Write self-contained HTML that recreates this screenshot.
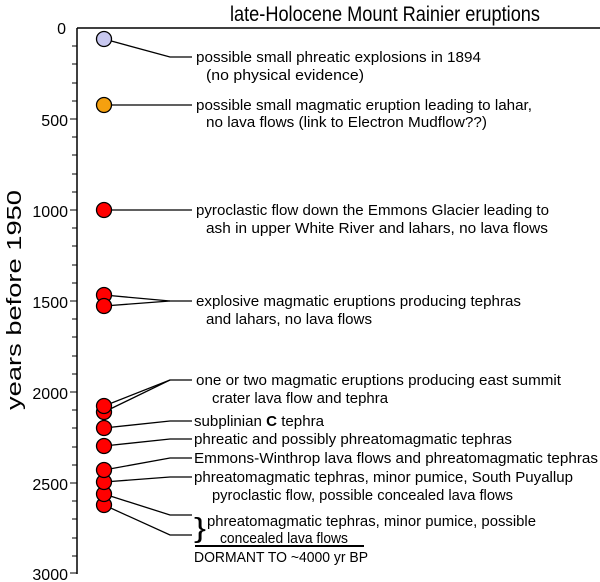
<!DOCTYPE html>
<html><head><meta charset="utf-8"><style>html,body{margin:0;padding:0;background:#fff}svg{display:block}</style></head>
<body>
<svg width="600" height="582" viewBox="0 0 600 582" xmlns="http://www.w3.org/2000/svg" font-family="Liberation Sans, sans-serif">
<text x="385" y="21" font-size="21" text-anchor="middle" textLength="310" lengthAdjust="spacingAndGlyphs">late-Holocene Mount Rainier eruptions</text>
<text transform="translate(21,300) rotate(-90)" font-size="20" text-anchor="middle" textLength="220" lengthAdjust="spacingAndGlyphs">years before 1950</text>
<g stroke="#000" stroke-width="1.5">
<line x1="77" y1="28" x2="77" y2="574"/>
<line x1="77" y1="28" x2="600" y2="28"/>
</g>
<g stroke="#000" stroke-width="1">
<line x1="72" y1="46" x2="77" y2="46"/><line x1="72" y1="64" x2="77" y2="64"/><line x1="72" y1="83" x2="77" y2="83"/><line x1="72" y1="101" x2="77" y2="101"/>
<line x1="70" y1="119" x2="77" y2="119"/>
<line x1="72" y1="137" x2="77" y2="137"/><line x1="72" y1="155" x2="77" y2="155"/><line x1="72" y1="174" x2="77" y2="174"/><line x1="72" y1="192" x2="77" y2="192"/>
<line x1="70" y1="210" x2="77" y2="210"/>
<line x1="72" y1="228" x2="77" y2="228"/><line x1="72" y1="246" x2="77" y2="246"/><line x1="72" y1="265" x2="77" y2="265"/><line x1="72" y1="283" x2="77" y2="283"/>
<line x1="70" y1="301" x2="77" y2="301"/>
<line x1="72" y1="319" x2="77" y2="319"/><line x1="72" y1="337" x2="77" y2="337"/><line x1="72" y1="356" x2="77" y2="356"/><line x1="72" y1="374" x2="77" y2="374"/>
<line x1="70" y1="392" x2="77" y2="392"/>
<line x1="72" y1="410" x2="77" y2="410"/><line x1="72" y1="428" x2="77" y2="428"/><line x1="72" y1="447" x2="77" y2="447"/><line x1="72" y1="465" x2="77" y2="465"/>
<line x1="70" y1="483" x2="77" y2="483"/>
<line x1="72" y1="501" x2="77" y2="501"/><line x1="72" y1="519" x2="77" y2="519"/><line x1="72" y1="538" x2="77" y2="538"/><line x1="72" y1="556" x2="77" y2="556"/>
<line x1="70" y1="573" x2="77" y2="573"/>
</g>
<g font-size="16" text-anchor="end">
<text x="66" y="34">0</text><text x="68" y="126">500</text><text x="68" y="217">1000</text><text x="68" y="308">1500</text><text x="68" y="399">2000</text><text x="68" y="490">2500</text><text x="68" y="580">3000</text>
</g>
<g stroke="#000" stroke-width="1.3" fill="none">
<polyline points="104,39 170,57 192,57"/>
<polyline points="104,105 192,105"/>
<polyline points="104,210 192,210"/>
<polyline points="104,295 170,301 192,301"/>
<polyline points="104,306 170,301"/>
<polyline points="104,406 170,380 192,380"/>
<polyline points="104,412 170,380"/>
<polyline points="104,428 170,421 192,421"/>
<polyline points="104,446 170,439 192,439"/>
<polyline points="104,470 170,458 192,458"/>
<polyline points="104,482 170,477 192,477"/>
<polyline points="104,494 170,515 192,515"/>
<polyline points="104,505 170,535 192,535"/>
<line x1="195" y1="546" x2="364" y2="546" stroke-width="2"/>
</g>
<g stroke="#000" stroke-width="1.3">
<circle cx="104" cy="39" r="7.5" fill="#c8c8f0"/>
<circle cx="104" cy="105" r="7.5" fill="#f5a00f"/>
<circle cx="104" cy="210" r="7.5" fill="#f00"/>
<circle cx="104" cy="295" r="7.5" fill="#f00"/>
<circle cx="104" cy="306" r="7.5" fill="#f00"/>
<circle cx="104" cy="412" r="7.5" fill="#f00"/>
<circle cx="104" cy="406" r="7.5" fill="#f00"/>
<circle cx="104" cy="428" r="7.5" fill="#f00"/>
<circle cx="104" cy="446" r="7.5" fill="#f00"/>
<circle cx="104" cy="505" r="7.5" fill="#f00"/>
<circle cx="104" cy="494" r="7.5" fill="#f00"/>
<circle cx="104" cy="482" r="7.5" fill="#f00"/>
<circle cx="104" cy="470" r="7.5" fill="#f00"/>
</g>
<g font-size="15">
<text x="196" y="62" textLength="285" lengthAdjust="spacingAndGlyphs">possible small phreatic explosions in 1894</text>
<text x="206" y="80" textLength="158" lengthAdjust="spacingAndGlyphs">(no physical evidence)</text>
<text x="196" y="110" textLength="336" lengthAdjust="spacingAndGlyphs">possible small magmatic eruption leading to lahar,</text>
<text x="206" y="127" textLength="281" lengthAdjust="spacingAndGlyphs">no lava flows (link to Electron Mudflow??)</text>
<text x="196" y="215" textLength="353" lengthAdjust="spacingAndGlyphs">pyroclastic flow down the Emmons Glacier leading to</text>
<text x="206" y="233" textLength="342" lengthAdjust="spacingAndGlyphs">ash in upper White River and lahars, no lava flows</text>
<text x="196" y="306" textLength="325" lengthAdjust="spacingAndGlyphs">explosive magmatic eruptions producing tephras</text>
<text x="206" y="324" textLength="166" lengthAdjust="spacingAndGlyphs">and lahars, no lava flows</text>
<text x="196" y="385" textLength="365" lengthAdjust="spacingAndGlyphs">one or two magmatic eruptions producing east summit</text>
<text x="212" y="403" textLength="176" lengthAdjust="spacingAndGlyphs">crater lava flow and tephra</text>
<text x="194" y="426" textLength="130" lengthAdjust="spacingAndGlyphs">subplinian <tspan font-weight="bold">C</tspan> tephra</text>
<text x="194" y="444" textLength="318" lengthAdjust="spacingAndGlyphs">phreatic and possibly phreatomagmatic tephras</text>
<text x="194" y="463" textLength="404" lengthAdjust="spacingAndGlyphs">Emmons-Winthrop lava flows and phreatomagmatic tephras</text>
<text x="194" y="482" textLength="379" lengthAdjust="spacingAndGlyphs">phreatomagmatic tephras, minor pumice,  South Puyallup</text>
<text x="212" y="500" textLength="301" lengthAdjust="spacingAndGlyphs">pyroclastic flow, possible concealed lava flows</text>
<text x="194" y="537" font-size="28" textLength="12" lengthAdjust="spacingAndGlyphs">}</text>
<text x="207" y="526" textLength="329" lengthAdjust="spacingAndGlyphs">phreatomagmatic tephras, minor pumice, possible</text>
<text x="220" y="543" textLength="128" lengthAdjust="spacingAndGlyphs">concealed lava flows</text>
<text x="194" y="562" textLength="174" lengthAdjust="spacingAndGlyphs">DORMANT TO ~4000 yr BP</text>
</g>
</svg>
</body></html>
